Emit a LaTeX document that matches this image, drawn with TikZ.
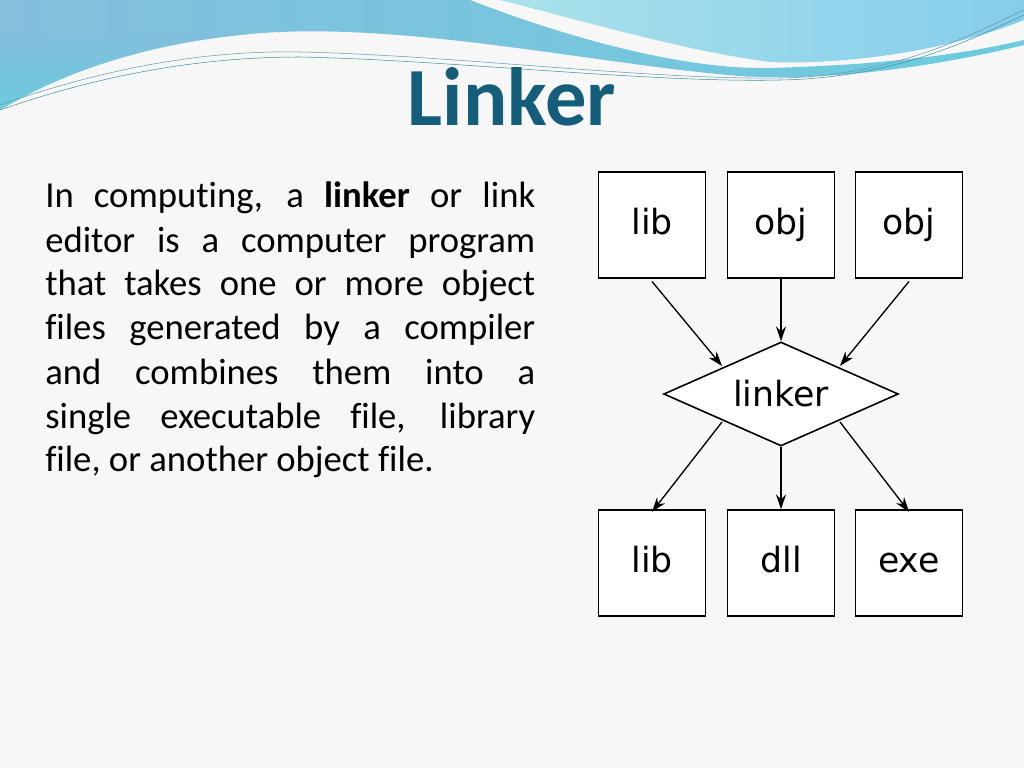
\documentclass[tikz,border=0pt]{standalone}
\usepackage{fontspec}
\setmainfont[Ligatures=NoCommon]{Carlito}
\newfontfamily\dejavu{DejaVu Sans}
\usetikzlibrary{shapes.geometric,arrows.meta}
\definecolor{bg}{HTML}{F7F7F7}
\definecolor{ttl}{HTML}{145E7C}
\definecolor{waveA}{HTML}{84BFDC}
\definecolor{waveB}{HTML}{5CD3E0}
\definecolor{waveC}{HTML}{A9E2EA}
\definecolor{waveD}{HTML}{86CDEB}
\begin{document}
\begin{tikzpicture}[x=0.75pt,y=-0.75pt,
  box/.style={draw,line width=1.2pt,minimum width=80pt,minimum height=79.5pt,inner sep=0pt,text height=19pt,text depth=5pt,font=\dejavu\fontsize{26}{26}\selectfont},
  arr/.style={-{Stealth[length=11pt,width=7.5pt]},line width=1pt}]
\fill[bg] (0,0) rectangle (1024,768);
\useasboundingbox (0,0) rectangle (1024,768);
% waves
\shade[left color=waveA,right color=waveB!60!waveA] (0,0) -- (470,0) .. controls (560,35) and (680,70) .. (770,68) .. controls (880,65) and (960,55) .. (1024,40) -- (1024,45) .. controls (900,75) and (800,80) .. (740,76) .. controls (600,65) and (400,20) .. (250,34) .. controls (130,45) and (50,80) .. (0,110) -- cycle;
\shade[bottom color=waveB,top color=waveA,opacity=0.6] (0,110) .. controls (50,80) and (130,45) .. (250,34) -- (0,34) -- cycle;
\shade[left color=waveC,right color=waveD] (500,0) -- (1024,0) -- (1024,20) .. controls (950,50) and (850,65) .. (770,62) .. controls (680,50) and (580,20) .. (500,0) -- cycle;
\draw[waveA!80!black,line width=0.4pt] (0,105) .. controls (100,70) and (200,50) .. (300,52) .. controls (450,55) and (650,80) .. (780,78) .. controls (900,76) and (980,30) .. (1024,10);
\draw[waveB!70!black,line width=0.4pt] (0,110) .. controls (100,75) and (200,57) .. (300,57) .. controls (450,60) and (650,83) .. (780,80) .. controls (900,78) and (980,35) .. (1024,15);
% title
\node[font=\fontsize{62}{62}\selectfont\bfseries,text=ttl,anchor=base] (title) at (512,125) {Linker};
% text
\node[anchor=north west,inner sep=0pt,text width=367.5pt,align=justify,font=\fontsize{27.5}{33}\selectfont] (body) at (45,182) {In computing, a \textbf{linker} or link\linebreak editor is a computer program\linebreak that takes one or more object\linebreak files generated by a compiler\linebreak and combines them into a\linebreak single executable file, library\linebreak file, or another object file.};
% diagram
\node[box,fill=white] (i1) at (652,225) {lib};
\node[box,fill=white] (i2) at (781,225) {obj};
\node[box,fill=white] (i3) at (909,225) {obj};
\node[box,fill=white] (o1) at (652,563) {lib};
\node[box,fill=white] (o2) at (781,563) {dll};
\node[box,fill=white] (o3) at (909,563) {exe};
\node[draw,line width=1.2pt,fill=white,diamond,aspect=2.25,minimum width=176pt,minimum height=78pt,inner sep=0pt,font=\dejavu\fontsize{26}{26}\selectfont] (lk) at (781,394) {linker};
\coordinate (a1) at (722,366);
\coordinate (a3) at (840,366);
\coordinate (b1) at (722,422);
\coordinate (b3) at (840,422);
\draw[arr] ([yshift=-2pt]i1.south) -- (a1);
\draw[arr] (i2.south) -- (lk.north);
\draw[arr] ([yshift=-2pt]i3.south) -- (a3);
\draw[arr] (b1) -- ([yshift=-2pt]o1.north);
\draw[arr] (lk.south) -- (o2.north);
\draw[arr] (b3) -- ([yshift=-2pt]o3.north);
\end{tikzpicture}
\end{document}
